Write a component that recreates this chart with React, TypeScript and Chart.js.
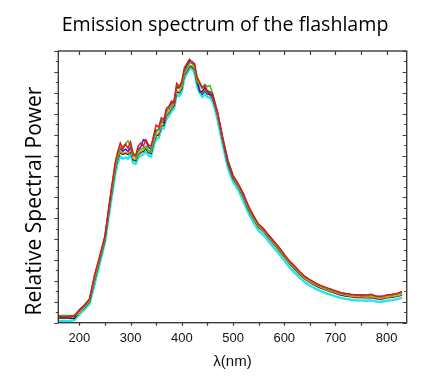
import React, { useEffect, useRef } from "react";
import { Chart, registerables } from "chart.js";
Chart.register(...registerables);

const wavelengths = [
  160, 170, 180, 190, 200, 210, 220, 230, 240, 250, 260, 270,
  275, 280, 285, 290, 295, 300, 305, 310, 315, 320,
  325, 330, 335, 340, 345, 350, 355, 360, 365, 370,
  375, 380, 385, 390, 395, 400, 405, 410, 415, 420,
  425, 430, 435, 440, 445, 450, 455, 460, 465, 470,
  480, 490, 500, 510, 520, 530, 540, 550, 560, 570,
  580, 590, 600, 610, 620, 630, 640, 650, 660, 670,
  680, 690, 700, 710, 720, 730, 740, 750, 760, 770,
  780, 790, 800, 810, 820, 830,
];

const redSeries = [
  0.30, 0.30, 0.31, 0.33, 0.58, 0.82, 1.15, 2.30, 3.20, 4.15, 5.95, 7.65,
  8.20, 8.60, 8.30, 8.55, 8.35, 8.65, 8.10, 8.00, 8.45, 8.60,
  8.45, 8.75, 8.50, 8.45, 8.95, 9.45, 9.35, 9.80, 9.70, 10.25,
  10.35, 10.60, 10.50, 11.45, 11.30, 11.55, 12.20, 12.40, 12.60, 12.45,
  12.40, 11.75, 11.50, 11.25, 11.35, 11.10, 11.05, 10.95, 10.50, 10.05,
  8.85, 7.75, 7.05, 6.65, 6.15, 5.60, 5.10, 4.72, 4.50, 4.18,
  3.90, 3.60, 3.28, 2.96, 2.72, 2.45, 2.22, 2.06, 1.92, 1.80,
  1.70, 1.62, 1.53, 1.45, 1.40, 1.36, 1.33, 1.34, 1.32, 1.36,
  1.27, 1.26, 1.33, 1.36, 1.40, 1.50,
];

const blueSeries = [
  0.28, 0.28, 0.29, 0.32, 0.62, 0.85, 1.12, 2.25, 3.15, 4.10, 5.90, 7.55,
  8.05, 8.35, 8.20, 8.30, 8.20, 8.40, 8.00, 7.95, 8.30, 8.40,
  8.75, 8.70, 8.40, 8.30, 8.85, 9.20, 9.25, 9.65, 9.55, 10.15,
  10.25, 10.50, 10.65, 11.30, 11.25, 11.45, 12.05, 12.30, 12.50, 12.50,
  12.30, 11.60, 11.05, 11.05, 11.25, 11.05, 10.95, 10.85, 10.45, 10.05,
  8.80, 7.70, 7.00, 6.62, 6.20, 5.52, 5.12, 4.68, 4.45, 4.14,
  3.86, 3.58, 3.24, 2.93, 2.66, 2.42, 2.20, 2.04, 1.88, 1.76,
  1.67, 1.58, 1.50, 1.42, 1.37, 1.34, 1.34, 1.30, 1.29, 1.33,
  1.25, 1.24, 1.30, 1.32, 1.38, 1.44,
];

const greenSeries = [
  0.35, 0.35, 0.34, 0.36, 0.55, 0.78, 1.10, 2.20, 3.10, 4.05, 5.80, 7.45,
  8.00, 8.40, 8.45, 8.55, 8.70, 8.45, 8.05, 7.90, 8.20, 8.30,
  8.35, 8.45, 8.25, 8.20, 8.80, 9.10, 9.30, 9.55, 9.75, 10.05,
  10.30, 10.40, 10.55, 11.20, 11.20, 11.35, 11.95, 12.20, 12.40, 12.40,
  12.25, 11.55, 11.40, 11.20, 11.40, 11.30, 11.35, 11.00, 10.50, 9.95,
  8.80, 7.80, 7.05, 6.60, 6.10, 5.52, 5.05, 4.66, 4.46, 4.16,
  3.86, 3.55, 3.24, 2.92, 2.66, 2.40, 2.18, 2.02, 1.88, 1.76,
  1.66, 1.58, 1.50, 1.43, 1.38, 1.34, 1.31, 1.31, 1.29, 1.31,
  1.26, 1.25, 1.30, 1.33, 1.37, 1.42,
];

const orangeSeries = [
  0.30, 0.30, 0.28, 0.30, 0.48, 0.72, 1.05, 2.10, 3.05, 4.00, 5.75, 7.35,
  7.90, 8.20, 8.10, 8.15, 8.10, 8.25, 7.85, 7.80, 8.10, 8.20,
  8.25, 8.40, 8.20, 8.15, 8.65, 9.00, 9.05, 9.45, 9.50, 9.95,
  10.10, 10.30, 10.45, 11.10, 11.05, 11.25, 11.90, 12.10, 12.30, 12.30,
  12.15, 11.50, 11.20, 11.00, 11.15, 11.00, 10.95, 10.80, 10.40, 9.95,
  8.75, 7.65, 6.95, 6.55, 6.05, 5.45, 5.00, 4.60, 4.38, 4.08,
  3.78, 3.50, 3.18, 2.86, 2.60, 2.34, 2.12, 1.96, 1.82, 1.70,
  1.60, 1.52, 1.44, 1.36, 1.31, 1.27, 1.24, 1.24, 1.22, 1.24,
  1.18, 1.17, 1.22, 1.25, 1.29, 1.35,
];

const blackSeries = [
  0.22, 0.22, 0.22, 0.20, 0.50, 0.70, 1.02, 2.05, 3.00, 3.95, 5.70, 7.30,
  7.85, 8.15, 8.05, 8.10, 8.05, 8.20, 7.80, 7.75, 8.05, 8.15,
  8.20, 8.35, 8.15, 8.10, 8.60, 8.95, 9.00, 9.40, 9.45, 9.90,
  10.05, 10.25, 10.40, 11.05, 11.00, 11.20, 11.85, 12.05, 12.25, 12.25,
  12.10, 11.45, 11.15, 10.95, 11.10, 10.95, 10.90, 10.75, 10.35, 9.90,
  8.70, 7.60, 6.90, 6.52, 6.02, 5.42, 4.98, 4.57, 4.35, 4.05,
  3.75, 3.47, 3.15, 2.83, 2.57, 2.31, 2.09, 1.93, 1.79, 1.67,
  1.57, 1.49, 1.41, 1.33, 1.28, 1.24, 1.21, 1.21, 1.19, 1.21,
  1.15, 1.14, 1.19, 1.22, 1.26, 1.32,
];

const cyanSeries = [
  0.08, 0.08, 0.08, 0.12, 0.40, 0.62, 0.90, 1.85, 2.85, 3.85, 5.50, 7.10,
  7.65, 7.95, 7.85, 7.90, 7.85, 8.05, 7.65, 7.60, 7.90, 8.00,
  8.05, 8.20, 8.00, 7.95, 8.45, 8.80, 8.85, 9.25, 9.30, 9.75,
  9.90, 10.10, 10.25, 10.90, 10.85, 11.05, 11.70, 11.90, 12.15, 12.15,
  11.95, 11.30, 11.00, 10.80, 10.95, 10.80, 10.75, 10.60, 10.20, 9.70,
  8.50, 7.40, 6.75, 6.35, 5.85, 5.25, 4.80, 4.40, 4.18, 3.88,
  3.58, 3.30, 2.98, 2.66, 2.40, 2.16, 1.94, 1.78, 1.64, 1.52,
  1.42, 1.34, 1.26, 1.19, 1.14, 1.10, 1.07, 1.07, 1.05, 1.07,
  1.01, 1.00, 1.05, 1.08, 1.12, 1.20,
];

const xLabelTicks = [200, 300, 400, 500, 600, 700, 800];
const xMinorTicks = [250, 350, 450, 550, 650, 750];
const yMajorTicks = [0, 1, 2, 3, 4, 5, 6, 7, 8, 9, 10, 11, 12, 13];
const yMinorTicks = [0.5, 1.5, 2.5, 3.5, 4.5, 5.5, 6.5, 7.5, 8.5, 9.5, 10.5, 11.5, 12.5];

const chartTitle = "Emission spectrum of the flashlamp";
const yTitle = "Relative Spectral Power";
const xTitle = "λ(nm)";

const W = 439;
const H = 387;

const framePlugin = {
  id: "framePlugin",
  afterDraw(chart: any) {
    const { ctx, chartArea, scales } = chart;
    const { left, right, top, bottom } = chartArea;
    const x = scales.x;
    const y = scales.y;
    ctx.save();
    ctx.strokeStyle = "#3c3c3c";
    ctx.lineWidth = 1.4;
    ctx.strokeRect(left, top, right - left, bottom - top);
    ctx.lineWidth = 1.2;
    ctx.beginPath();
    for (const v of [...xLabelTicks, ...xMinorTicks]) {
      const px = Math.round(x.getPixelForValue(v)) + 0.5;
      ctx.moveTo(px, top);
      ctx.lineTo(px, top + 4);
      ctx.moveTo(px, bottom);
      ctx.lineTo(px, bottom + 3);
    }
    for (const v of yMajorTicks) {
      const py = Math.round(y.getPixelForValue(v)) + 0.5;
      ctx.moveTo(left - 4, py);
      ctx.lineTo(left, py);
      ctx.moveTo(right, py);
      ctx.lineTo(right - 4, py);
    }
    for (const v of yMinorTicks) {
      const py = Math.round(y.getPixelForValue(v)) + 0.5;
      ctx.moveTo(left - 2.5, py);
      ctx.lineTo(left, py);
      ctx.moveTo(right, py);
      ctx.lineTo(right - 2.5, py);
    }
    ctx.stroke();

    ctx.fillStyle = "#000";
    ctx.textAlign = "center";
    ctx.textBaseline = "middle";
    ctx.font = '19.6px "Open Sans"';
    ctx.fillText(chartTitle, 225, 25);

    ctx.font = '21px "Open Sans"';
    ctx.translate(35, 201);
    ctx.rotate(-Math.PI / 2);
    ctx.fillText(yTitle, 0, 0);
    ctx.restore();
  },
};

export default function App() {
  const canvasRef = useRef<HTMLCanvasElement | null>(null);

  useEffect(() => {
    document.body.style.margin = "0";
    const canvas = canvasRef.current;
    if (!canvas) return;
    const mk = (data: number[], color: string, width: number) => ({
      data: wavelengths.map((w, i) => ({ x: w, y: data[i] })),
      borderColor: color,
      backgroundColor: color,
      borderWidth: width,
      pointRadius: 0,
      tension: 0,
      fill: false,
    });
    const chart = new Chart(canvas, {
      type: "line",
      data: {
        datasets: [
          mk(redSeries, "#e8121a", 1.5),
          mk(greenSeries, "#2cc41c", 1.5),
          mk(blueSeries, "#2a1fc8", 1.5),
          mk(orangeSeries, "#f08c1e", 1.5),
          mk(blackSeries, "#111111", 1.5),
          mk(cyanSeries, "#22e6ea", 2.4),
        ],
      },
      options: {
        animation: false,
        responsive: false,
        devicePixelRatio: 1,
        layout: { padding: { left: 0, right: 32.3, top: 51, bottom: 0 } },
        plugins: {
          legend: { display: false },
          tooltip: { enabled: false },
          title: { display: false },
        },
        scales: {
          x: {
            type: "linear",
            min: 159,
            max: 839,
            afterBuildTicks: (scale: any) => {
              scale.ticks = xLabelTicks.map((v) => ({ value: v }));
            },
            afterFit: (scale: any) => {
              scale.height = H - 322.7;
            },
            grid: { display: false, drawTicks: false },
            border: { display: false },
            ticks: {
              color: "#111",
              padding: 8,
              maxRotation: 0,
              autoSkip: false,
              font: { family: '"Liberation Sans", Arial, sans-serif', size: 13 },
              callback: (v: any) => String(v),
            },
            title: {
              display: true,
              text: xTitle,
              color: "#111",
              font: { family: '"Liberation Sans", Arial, sans-serif', size: 15 },
              padding: { top: 0, bottom: 16 },
            },
          },
          y: {
            type: "linear",
            min: 0,
            max: 13,
            afterBuildTicks: (scale: any) => {
              scale.ticks = yMajorTicks.map((v) => ({ value: v }));
            },
            afterFit: (scale: any) => {
              scale.width = 58.3;
            },
            grid: { display: false, drawTicks: false },
            border: { display: false },
            ticks: { display: false },
          },
        },
      },
      plugins: [framePlugin],
    } as any);
    return () => chart.destroy();
  }, []);

  return (
    <div style={{ position: "absolute", left: 0, top: 0, width: W, height: H, background: "#fff" }}>
      <canvas ref={canvasRef} width={W} height={H} />
    </div>
  );
}
